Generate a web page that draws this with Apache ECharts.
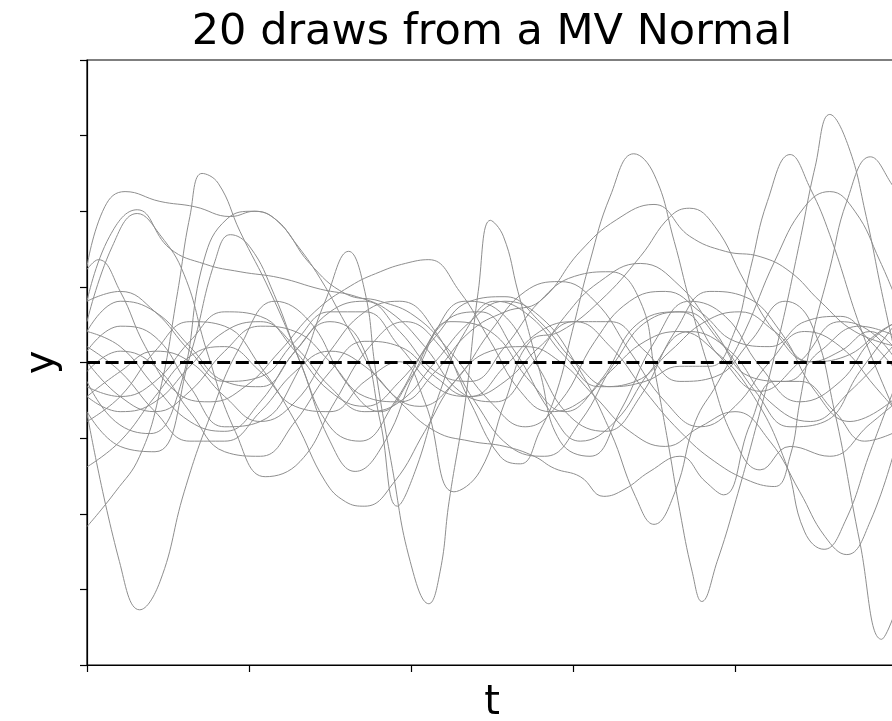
<!DOCTYPE html>
<html><head><meta charset="utf-8">
<script src="https://cdn.jsdelivr.net/npm/echarts@6/dist/echarts.min.js"></script>
<style>html,body{margin:0;padding:0;background:#fff}#c{width:892px;height:721px}</style>
</head><body><div id="c"></div>
<script>
// ---- text ----
const chartTitle = '20 draws from a MV Normal';
const xName = 't';
const yName = 'y';
// ---- axes ----
const tMin = 0, tMax = 10, tStep = 2;
const yMin = -4, yMax = 4, yStep = 1;
// ---- mean (dashed) ----
const meanT = [0, 10];
const meanY = [0, 0];
// ---- 20 draws, [t, y] knots ----
const draw01 = [[0,-0.67],[0.40,-2.63],[0.65,-3.27],[0.90,-2.90],[1.20,-1.71],[1.52,-0.71],[1.89,0.21],[2.32,0.81],[2.75,0.54],[3.19,-0.25],[3.62,-0.65],[4.05,-0.12],[4.48,0.54],[4.98,0.41],[5.47,-0.25],[5.90,-0.65],[6.33,-0.25],[6.83,0.54],[7.32,0.67],[7.81,0.08],[8.31,-0.38],[8.80,0.01],[9.30,0.54],[9.67,0.41],[10,0.01]];
const draw02 = [[0,-2.17],[0.35,-1.71],[0.65,-1.24],[0.90,-0.38],[1.12,0.94],[1.27,1.93],[1.42,2.50],[1.62,2.37],[1.89,1.73],[2.26,0.94],[2.63,0.01],[3.00,-1.04],[3.31,-1.44],[3.68,-1.04],[4.05,-0.12],[4.42,0.54],[4.85,0.67],[5.28,0.15],[5.72,-0.65],[6.09,-1.04],[6.52,-0.78],[6.95,-0.12],[7.44,0.41],[7.94,0.15],[8.43,-0.52],[8.93,-0.78],[9.42,-0.38],[10,0.28]];
const draw03 = [[0,1.27],[0.22,2.06],[0.47,2.26],[0.90,2.13],[1.33,2.06],[1.77,1.93],[2.07,2.00],[2.38,1.84],[2.75,1.31],[3.19,0.91],[3.62,0.81],[4.05,0.61],[4.48,0.15],[4.98,-0.52],[5.41,-0.85],[5.84,-0.52],[6.27,0.28],[6.70,0.81],[7.14,0.94],[7.57,0.67],[8.00,0.28],[8.43,0.21],[8.86,0.54],[9.30,0.61],[9.67,0.28],[10,-0.12]];
const draw04 = [[0,0.81],[0.28,1.67],[0.62,2.02],[1.02,1.51],[1.46,1.30],[1.89,1.20],[2.38,1.12],[2.88,0.97],[3.33,0.87],[3.74,0.67],[4.17,0.21],[4.60,-0.38],[5.04,-0.52],[5.47,-0.05],[5.90,0.61],[6.33,1.07],[6.83,1.31],[7.32,1.01],[7.75,0.41],[8.19,-0.19],[8.62,-0.25],[9.05,0.15],[9.54,0.48],[10,0.34]];
const draw05 = [[0,0.54],[0.31,1.53],[0.62,1.97],[0.90,1.69],[1.20,1.16],[1.48,0.15],[1.83,-0.91],[2.20,-1.51],[2.63,-1.31],[3.06,-0.52],[3.49,0.21],[3.93,0.54],[4.36,0.21],[4.79,-0.52],[5.22,-1.11],[5.65,-1.24],[6.09,-0.78],[6.52,0.01],[6.95,0.57],[7.38,0.67],[7.81,0.28],[8.25,-0.38],[8.68,-0.85],[9.11,-0.78],[9.54,-0.12],[10,0.54]];
const draw06 = [[0,-0.25],[0.35,-0.78],[0.78,-0.94],[1.15,-0.32],[1.44,1.34],[1.73,1.90],[2.06,2.00],[2.32,1.90],[2.56,1.60],[2.88,1.11],[3.25,0.41],[3.68,-0.32],[4.11,-0.58],[4.54,-0.25],[4.98,0.41],[5.41,0.94],[5.84,1.07],[6.27,0.81],[6.70,0.15],[7.14,-0.52],[7.57,-0.85],[8.00,-0.58],[8.43,0.01],[8.86,0.41],[9.30,0.21],[9.73,-0.32],[10,-0.65]];
const draw07 = [[0,-0.65],[0.41,-1.11],[0.84,-1.18],[1.27,0.08],[1.58,1.34],[1.77,1.69],[2.01,1.53],[2.31,0.90],[2.63,0.01],[3.00,-0.85],[3.37,-1.04],[3.80,-0.52],[4.23,0.28],[4.67,0.81],[5.10,0.67],[5.53,0.01],[5.96,-0.71],[6.40,-0.91],[6.83,-0.45],[7.26,0.41],[7.69,0.94],[8.12,0.87],[8.56,0.41],[8.99,-0.38],[9.42,-0.78],[10,-0.45]];
const draw08 = [[0,0.15],[0.41,0.48],[0.84,0.34],[1.27,-0.32],[1.70,-0.85],[2.14,-0.78],[2.57,-0.19],[2.94,0.81],[3.23,1.47],[3.43,0.94],[3.56,-0.08],[3.77,-1.40],[3.99,-2.63],[4.22,-3.19],[4.36,-2.76],[4.47,-1.84],[4.67,-0.52],[4.83,0.94],[4.98,1.88],[5.14,1.67],[5.32,0.94],[5.59,-0.12],[5.84,-1.04],[6.21,-1.24],[6.58,-0.65],[7.01,0.28],[7.44,0.81],[7.88,0.61],[8.31,-0.05],[8.80,-0.52],[9.30,-0.25],[9.67,0.28],[10,0.54]];
const draw09 = [[0,-0.45],[0.41,-0.12],[0.84,0.15],[1.27,0.01],[1.70,-0.45],[2.14,-0.78],[2.57,-0.52],[3.00,0.15],[3.43,0.67],[3.86,0.81],[4.30,0.41],[4.73,-0.52],[5.10,-1.24],[5.35,-1.34],[5.59,-0.91],[5.80,-0.38],[5.99,0.41],[6.21,1.34],[6.46,2.20],[6.75,2.76],[7.00,2.49],[7.25,1.60],[7.44,0.81],[7.69,-0.12],[8.00,-1.04],[8.31,-1.42],[8.68,-1.11],[9.17,-1.24],[9.67,-0.81],[10,-0.52]];
const draw10 = [[0,0.01],[0.41,-0.45],[0.84,-0.65],[1.27,-0.38],[1.70,0.15],[2.14,0.48],[2.57,0.41],[3.00,0.01],[3.43,-0.45],[3.86,-0.52],[4.30,-0.12],[4.73,0.41],[5.16,0.67],[5.59,0.81],[6.09,1.47],[6.54,1.89],[7.00,2.09],[7.44,1.67],[7.88,1.47],[8.31,1.40],[8.68,1.20],[9.05,0.81],[9.48,0.41],[10,0.21]];
const draw11 = [[0,0.41],[0.41,0.81],[0.84,0.67],[1.27,0.21],[1.70,-0.25],[2.14,-0.32],[2.57,0.15],[3.00,0.67],[3.43,0.81],[3.86,0.41],[4.30,-0.12],[4.73,-0.25],[5.16,0.21],[5.59,0.81],[6.02,1.14],[6.46,1.20],[6.83,0.81],[7.01,-0.12],[7.17,-1.04],[7.32,-1.97],[7.47,-2.76],[7.59,-3.16],[7.78,-2.63],[7.99,-1.90],[8.27,-0.81],[8.56,0.41],[8.80,1.60],[8.99,2.59],[9.17,3.28],[9.40,2.86],[9.62,1.93],[9.81,0.94],[10,0.01]];
const draw12 = [[0,-0.32],[0.41,-0.45],[0.84,-0.25],[1.27,0.28],[1.70,0.67],[2.14,0.61],[2.57,0.15],[3.00,-0.38],[3.43,-0.58],[3.86,-0.25],[4.30,0.34],[4.73,0.81],[5.16,0.87],[5.59,0.54],[6.02,0.01],[6.46,-0.32],[6.89,-0.25],[7.32,-0.05],[7.69,-0.05],[7.98,0.37],[8.19,1.24],[8.40,2.13],[8.68,2.75],[8.93,2.30],[9.17,1.69],[9.58,0.37],[10,-0.71]];
const draw13 = [[0,0.81],[0.41,0.94],[0.84,0.67],[1.27,0.15],[1.70,-0.25],[2.14,-0.19],[2.57,0.28],[3.00,0.67],[3.43,0.67],[3.86,0.21],[4.30,-0.32],[4.73,-0.45],[5.16,-0.05],[5.59,0.41],[6.02,0.54],[6.46,0.21],[6.89,-0.38],[7.32,-0.91],[7.75,-1.31],[8.19,-1.57],[8.49,-1.64],[8.68,-1.24],[8.80,-0.52],[8.96,0.37],[9.17,1.24],[9.38,2.13],[9.67,2.72],[9.94,2.35],[10,2.20]];
const draw14 = [[0,-0.12],[0.41,0.15],[0.84,-0.05],[1.27,-0.65],[1.70,-1.18],[2.14,-1.24],[2.57,-0.78],[3.00,-0.12],[3.43,0.28],[3.86,0.21],[4.30,-0.19],[4.73,-0.45],[5.16,-0.25],[5.59,0.21],[6.02,0.54],[6.46,0.54],[6.89,0.15],[7.32,-0.25],[7.75,-0.19],[8.19,0.28],[8.62,0.81],[8.93,0.54],[9.23,-0.65],[9.54,-2.37],[9.81,-3.66],[10,-3.23]];
const draw15 = [[0,-0.45],[0.41,-0.65],[0.84,-0.52],[1.27,-0.05],[1.70,0.41],[2.14,0.54],[2.57,0.21],[3.00,-0.32],[3.43,-0.65],[3.86,-0.52],[4.30,0.01],[4.73,0.54],[5.16,0.81],[5.59,0.61],[6.02,0.01],[6.46,-0.91],[6.77,-1.77],[7.00,-2.14],[7.26,-1.71],[7.51,-0.78],[7.78,-0.28],[8.12,0.41],[8.49,1.34],[8.86,2.06],[9.17,2.26],[9.48,2.00],[9.79,1.34],[10,0.81]];
const draw16 = [[0,0.21],[0.41,-0.12],[0.84,-0.65],[1.27,-1.04],[1.70,-1.04],[2.14,-0.65],[2.57,-0.12],[3.00,0.15],[3.43,-0.05],[3.86,-0.52],[4.30,-0.91],[4.73,-1.04],[5.16,-1.11],[5.52,-1.24],[5.77,-1.40],[6.09,-1.51],[6.38,-1.77],[6.63,-1.68],[6.95,-1.44],[7.32,-1.24],[7.63,-1.57],[7.86,-1.75],[8.19,-0.81],[8.49,-0.25],[8.80,-0.25],[9.23,-0.65],[9.60,-1.04],[10,-0.91]];
const draw17 = [[0,1.23],[0.14,1.36],[0.41,0.94],[0.72,0.21],[1.09,-0.38],[1.52,-0.52],[1.95,-0.32],[2.38,0.15],[2.81,0.67],[3.25,1.01],[3.62,1.20],[3.93,1.31],[4.22,1.36],[4.60,0.94],[4.98,0.28],[5.35,-0.38],[5.72,-0.65],[6.09,-0.52],[6.46,-0.12],[6.89,0.28],[7.32,0.41],[7.75,0.15],[8.19,-0.38],[8.62,-1.31],[8.86,-2.24],[9.10,-2.47],[9.36,-2.10],[9.67,-1.18],[10,-0.25]];
const draw18 = [[0,-0.78],[0.41,-0.45],[0.84,0.15],[1.27,0.54],[1.70,0.48],[2.14,-0.05],[2.57,-0.78],[2.94,-1.57],[3.19,-1.84],[3.43,-1.90],[3.80,-1.57],[4.17,-0.91],[4.54,-0.25],[4.98,0.15],[5.41,0.21],[5.84,0.01],[6.27,-0.45],[6.70,-0.91],[7.14,-1.11],[7.57,-0.85],[8.00,-0.65],[8.43,-1.04],[8.80,-1.71],[9.11,-2.30],[9.38,-2.54],[9.67,-2.10],[10,-1.04]];
const draw19 = [[0,0.41],[0.41,0.21],[0.84,-0.32],[1.27,-0.78],[1.70,-0.91],[2.14,-0.52],[2.57,0.15],[3.00,0.54],[3.37,0.28],[3.62,-0.78],[3.83,-1.90],[4.05,-1.44],[4.36,-0.38],[4.67,0.41],[5.04,0.81],[5.47,0.61],[5.90,0.08],[6.33,-0.32],[6.77,-0.25],[7.20,0.15],[7.63,0.54],[8.06,0.67],[8.49,0.41],[8.93,0.01],[9.36,0.08],[9.79,0.41],[10,0.54]];
const draw20 = [[0,-1.38],[0.41,-1.04],[0.84,-0.45],[1.27,0.08],[1.70,0.21],[2.14,-0.12],[2.57,-0.58],[3.00,-0.65],[3.43,-0.25],[3.86,0.01],[4.17,-0.52],[4.53,-1.71],[4.85,-1.44],[5.16,-0.52],[5.47,0.28],[5.84,0.41],[6.33,0.81],[6.83,1.40],[7.20,1.93],[7.44,2.04],[7.75,1.80],[8.12,1.07],[8.49,0.41],[8.93,0.01],[9.30,0.15],[9.67,0.41],[10,0.15]];

const draws = [draw01,draw02,draw03,draw04,draw05,draw06,draw07,draw08,draw09,draw10,
               draw11,draw12,draw13,draw14,draw15,draw16,draw17,draw18,draw19,draw20];

const FONT = '"DejaVu Sans", sans-serif';
const chart = echarts.init(document.getElementById('c'), null, {renderer: 'canvas'});
const GL = 87, GT = 60, GW = 810, GH = 605;

const series = draws.map((d, i) => ({
  type: 'line', name: 'draw ' + (i + 1), data: d, smooth: 0.45,
  symbol: 'none', silent: true, z: 2,
  lineStyle: {color: '#8e8e8e', width: 1}
}));
series.push({
  type: 'line', name: 'mean', data: meanT.map((t, i) => [t, meanY[i]]),
  symbol: 'none', silent: true, z: 5,
  lineStyle: {color: '#000', width: 2.8, type: [13, 5.6]}
});

const axisLineStyle = {color: '#000', width: 1.2};
chart.setOption({
  animation: false,
  backgroundColor: '#fff',
  grid: {left: GL, top: GT, width: GW, height: GH, outerBoundsMode: 'none', containLabel: false,
         show: true, borderColor: '#000', borderWidth: 1.2, backgroundColor: 'transparent'},
  xAxis: {
    type: 'value', min: tMin, max: tMax, interval: tStep,
    axisLine: {show: true, onZero: false, lineStyle: axisLineStyle},
    axisTick: {show: true, inside: false, length: 7, lineStyle: axisLineStyle},
    axisLabel: {show: false}, splitLine: {show: false}
  },
  yAxis: {
    type: 'value', min: yMin, max: yMax, interval: yStep,
    axisLine: {show: true, onZero: false, lineStyle: axisLineStyle},
    axisTick: {show: true, inside: false, length: 7, lineStyle: axisLineStyle},
    axisLabel: {show: false}, splitLine: {show: false}
  },
  graphic: [
    {type: 'text', x: GL + GW / 2, y: 33, style: {text: chartTitle, font: '43px ' + FONT, fill: '#000', textAlign: 'center', textVerticalAlign: 'middle'}},
    {type: 'text', x: GL + GW / 2, y: 704, style: {text: xName, font: '40px ' + FONT, fill: '#000', textAlign: 'center', textVerticalAlign: 'middle'}},
    {type: 'text', x: 43, y: GT + GH / 2, rotation: Math.PI / 2, style: {text: yName, font: '40px ' + FONT, fill: '#000', textAlign: 'center', textVerticalAlign: 'middle'}}
  ],
  series: series
});
</script></body></html>
